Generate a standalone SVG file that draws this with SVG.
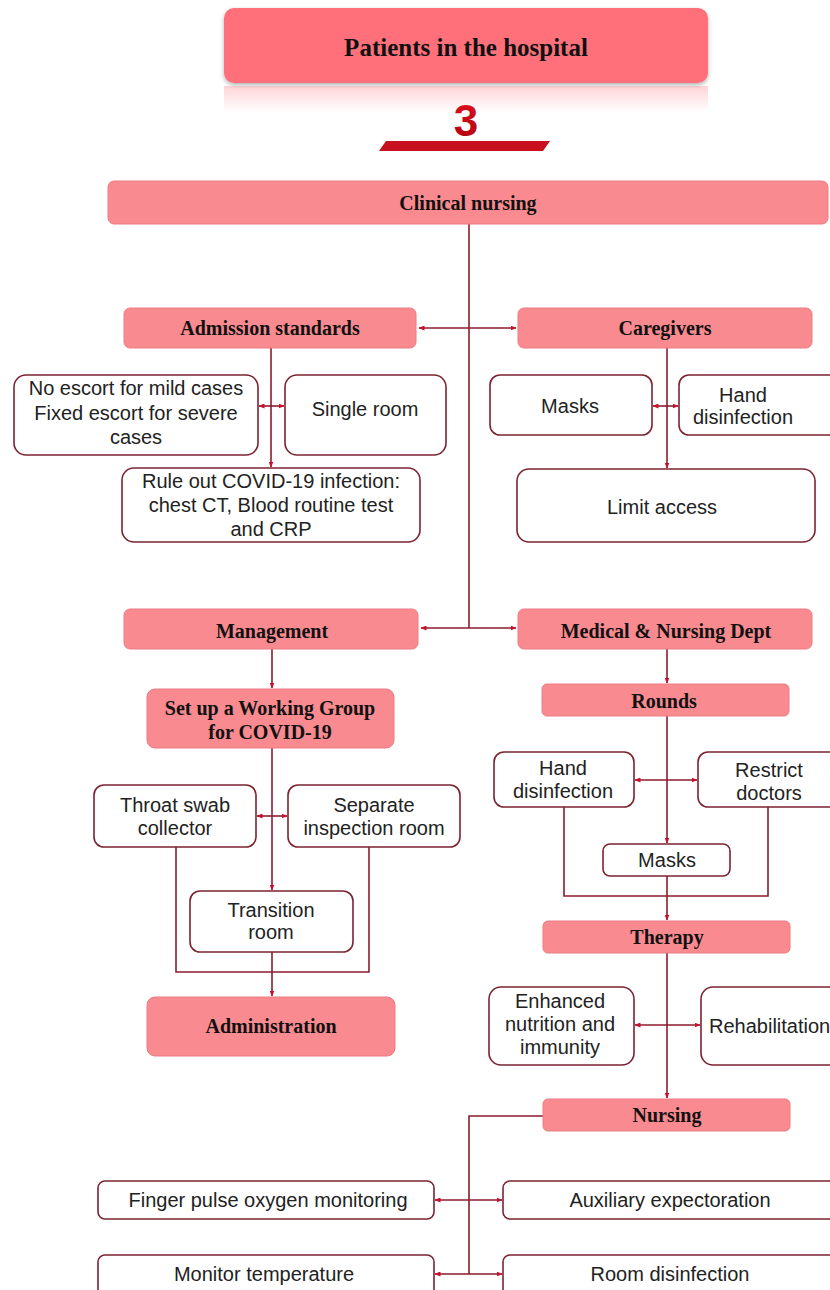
<svg xmlns="http://www.w3.org/2000/svg" width="830" height="1290" viewBox="0 0 830 1290">
<defs>
<style>
.pk{fill:#F98A90;stroke:#EC7C84;stroke-width:1}
.wb{fill:#fff;stroke:#7B2330;stroke-width:1.6}
.lb{font-family:"Liberation Serif","Times New Roman",serif;font-weight:bold;font-size:20px;fill:#111;text-anchor:middle}
.tx{font-family:"Liberation Sans",Arial,sans-serif;font-size:20px;fill:#222;text-anchor:middle}
.ln{fill:none;stroke:#8B1C2C;stroke-width:1.6}
.ar{marker-end:url(#ah)}
.ar2{marker-start:url(#ah);marker-end:url(#ah)}
</style>
<marker id="ah" markerUnits="userSpaceOnUse" markerWidth="6" markerHeight="5" refX="5.5" refY="2.5" orient="auto-start-reverse">
<path d="M0,0 L6,2.5 L0,5 z" fill="#C8102E"/>
</marker>
<linearGradient id="refl" x1="0" y1="0" x2="0" y2="1">
<stop offset="0" stop-color="#FF6F7A" stop-opacity="0.3"/>
<stop offset="1" stop-color="#FF6F7A" stop-opacity="0"/>
</linearGradient>
<linearGradient id="red3" x1="0" y1="0" x2="0" y2="1">
<stop offset="0" stop-color="#E0101E"/>
<stop offset="1" stop-color="#B00010"/>
</linearGradient>
<filter id="sh" x="-5%" y="-10%" width="110%" height="130%">
<feDropShadow dx="0" dy="2" stdDeviation="2" flood-color="#000" flood-opacity="0.3"/>
</filter>
</defs>

<g id="header">
<rect x="224" y="86" width="484" height="26" fill="url(#refl)"/>
<rect x="224" y="8" width="484" height="75" rx="10" fill="#FF6F7A" filter="url(#sh)"/>
<text x="466" y="56" class="lb" style="font-size:25px">Patients in the hospital</text>
</g>
<g id="number">
<text x="466" y="136" style="font-family:'Liberation Sans',Arial,sans-serif;font-weight:bold;font-size:44px;text-anchor:middle" fill="url(#red3)">3</text>
<polygon points="386,141 550,141 543,151 379,151" fill="#C8101E"/>
</g>

<g id="connectors">
<path class="ln" d="M469,224 V628"/>
<path class="ln ar2" d="M419,328 H516"/>
<path class="ln ar2" d="M421,628 H516"/>
<path class="ln ar" d="M271,348 V467"/>
<path class="ln ar2" d="M259,406 H284"/>
<path class="ln ar" d="M667,348 V468"/>
<path class="ln ar2" d="M653,406 H678"/>
<path class="ln ar" d="M272,649 V688"/>
<path class="ln ar" d="M272,748 V890"/>
<path class="ln ar2" d="M257,816 H287"/>
<path class="ln" d="M176,847 V972 H369 V847"/>
<path class="ln ar" d="M272,952 V996"/>
<path class="ln ar" d="M667,649 V683"/>
<path class="ln ar" d="M667,716 V843"/>
<path class="ln ar2" d="M635,780 H697"/>
<path class="ln" d="M564,807 V896 H768 V807"/>
<path class="ln ar" d="M667,876 V920"/>
<path class="ln ar" d="M667,953 V1098"/>
<path class="ln ar2" d="M635,1025 H700"/>
<path class="ln" d="M543,1116 H469 V1274"/>
<path class="ln ar2" d="M435,1200 H502"/>
<path class="ln ar2" d="M435,1274 H502"/>
</g>

<g id="clinical-nursing"><rect class="pk" x="108" y="181" width="720" height="43" rx="6"/><text class="lb" x="468" y="210">Clinical nursing</text></g>
<g id="admission-standards"><rect class="pk" x="124" y="308" width="292" height="40" rx="6"/><text class="lb" x="270" y="335">Admission standards</text></g>
<g id="caregivers"><rect class="pk" x="518" y="308" width="294" height="40" rx="6"/><text class="lb" x="665" y="335">Caregivers</text></g>

<g id="escort"><rect class="wb" x="14" y="375" width="244" height="80" rx="12"/><text class="tx" x="136" y="395">No escort for mild cases</text><text class="tx" x="136" y="420">Fixed escort for severe</text><text class="tx" x="136" y="444">cases</text></g>
<g id="single-room"><rect class="wb" x="285" y="375" width="161" height="80" rx="12"/><text class="tx" x="365" y="416">Single room</text></g>
<g id="rule-out"><rect class="wb" x="122" y="468" width="298" height="74" rx="12"/><text class="tx" x="271" y="488">Rule out COVID-19 infection:</text><text class="tx" x="271" y="512">chest CT, Blood routine test</text><text class="tx" x="271" y="536">and CRP</text></g>

<g id="masks-1"><rect class="wb" x="490" y="375" width="162" height="60" rx="10"/><text class="tx" x="570" y="413">Masks</text></g>
<g id="hand-disinfection-1"><rect class="wb" x="679" y="375" width="165" height="60" rx="10"/><text class="tx" x="743" y="402">Hand</text><text class="tx" x="743" y="424">disinfection</text></g>
<g id="limit-access"><rect class="wb" x="517" y="469" width="298" height="73" rx="12"/><text class="tx" x="662" y="514">Limit access</text></g>

<g id="management"><rect class="pk" x="124" y="609" width="294" height="40" rx="6"/><text class="lb" x="272" y="638">Management</text></g>
<g id="medical-nursing-dept"><rect class="pk" x="518" y="609" width="294" height="40" rx="6"/><text class="lb" x="666" y="638">Medical &amp; Nursing Dept</text></g>

<g id="working-group"><rect class="pk" x="147" y="689" width="247" height="59" rx="8"/><text class="lb" x="270" y="715">Set up a Working Group</text><text class="lb" x="270" y="739">for COVID-19</text></g>
<g id="throat-swab"><rect class="wb" x="94" y="785" width="162" height="62" rx="10"/><text class="tx" x="175" y="812">Throat swab</text><text class="tx" x="175" y="835">collector</text></g>
<g id="separate-room"><rect class="wb" x="288" y="785" width="172" height="62" rx="10"/><text class="tx" x="374" y="812">Separate</text><text class="tx" x="374" y="835">inspection room</text></g>
<g id="transition-room"><rect class="wb" x="190" y="891" width="163" height="61" rx="10"/><text class="tx" x="271" y="917">Transition</text><text class="tx" x="271" y="939">room</text></g>
<g id="administration"><rect class="pk" x="147" y="997" width="248" height="59" rx="8"/><text class="lb" x="271" y="1033">Administration</text></g>

<g id="rounds"><rect class="pk" x="542" y="684" width="247" height="32" rx="5"/><text class="lb" x="664" y="708">Rounds</text></g>
<g id="hand-disinfection-2"><rect class="wb" x="494" y="752" width="140" height="55" rx="10"/><text class="tx" x="563" y="775">Hand</text><text class="tx" x="563" y="798">disinfection</text></g>
<g id="restrict-doctors"><rect class="wb" x="698" y="752" width="145" height="55" rx="10"/><text class="tx" x="769" y="777">Restrict</text><text class="tx" x="769" y="800">doctors</text></g>
<g id="masks-2"><rect class="wb" x="603" y="844" width="127" height="32" rx="7"/><text class="tx" x="667" y="867">Masks</text></g>

<g id="therapy"><rect class="pk" x="543" y="921" width="247" height="32" rx="5"/><text class="lb" x="667" y="944">Therapy</text></g>
<g id="enhanced-nutrition"><rect class="wb" x="489" y="987" width="145" height="78" rx="12"/><text class="tx" x="560" y="1008">Enhanced</text><text class="tx" x="560" y="1031">nutrition and</text><text class="tx" x="560" y="1054">immunity</text></g>
<g id="rehabilitation"><rect class="wb" x="701" y="987" width="145" height="78" rx="12"/><text class="tx" x="709" y="1033" style="text-anchor:start">Rehabilitation</text></g>

<g id="nursing"><rect class="pk" x="543" y="1099" width="247" height="32" rx="5"/><text class="lb" x="667" y="1122">Nursing</text></g>
<g id="finger-pulse"><rect class="wb" x="98" y="1181" width="336" height="38" rx="7"/><text class="tx" x="268" y="1207">Finger pulse oxygen monitoring</text></g>
<g id="auxiliary"><rect class="wb" x="503" y="1181" width="345" height="38" rx="7"/><text class="tx" x="670" y="1207">Auxiliary expectoration</text></g>
<g id="monitor-temperature"><rect class="wb" x="98" y="1255" width="336" height="50" rx="7"/><text class="tx" x="264" y="1281">Monitor temperature</text></g>
<g id="room-disinfection"><rect class="wb" x="503" y="1255" width="345" height="50" rx="7"/><text class="tx" x="670" y="1281">Room disinfection</text></g>
</svg>
